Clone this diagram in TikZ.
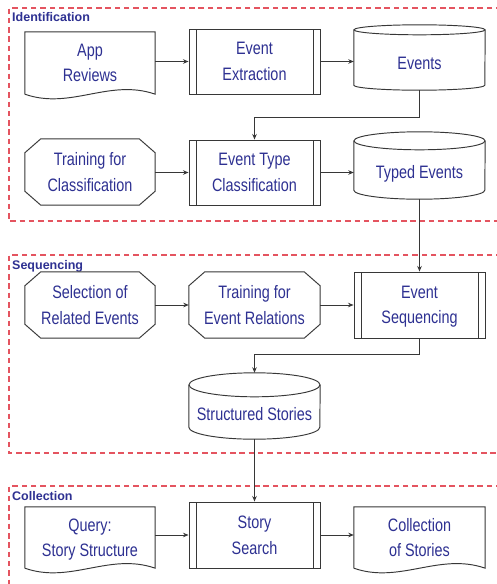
\documentclass[tikz,border=0pt]{standalone}
\usepackage{fontspec}
\setmainfont{Liberation Sans}
\newfontfamily\boxfont[FakeStretch=0.8]{Liberation Sans}
\usetikzlibrary{arrows.meta,calc}

\definecolor{inkblue}{RGB}{46,49,146}
\definecolor{edgegray}{RGB}{55,55,55}
\definecolor{zonered}{RGB}{228,84,96}

\begin{document}
\begin{tikzpicture}[x=1pt,y=-1pt,
  every node/.style={inner sep=0pt},
  boxtext/.style={font=\boxfont\fontsize{18}{25.5}\selectfont, text=inkblue,
    align=center, text depth=0pt},
  outline/.style={draw=edgegray, line width=0.95pt},
  proc/.style={boxtext, outline, minimum width=131pt, minimum height=65pt,
    path picture={
      \draw[edgegray, line width=0.95pt]
        ([xshift=7pt]path picture bounding box.north west) --
        ([xshift=7pt]path picture bounding box.south west)
        ([xshift=-7pt]path picture bounding box.north east) --
        ([xshift=-7pt]path picture bounding box.south east);}},
  docnode/.style={boxtext, minimum width=130pt, minimum height=61pt},
  octnode/.style={boxtext, minimum width=130pt, minimum height=66pt},
  cylnode/.style={boxtext, minimum width=131pt},
  conn/.style={draw=edgegray, line width=0.95pt, -{Stealth[length=5.5pt,width=4.5pt]}},
  stagezone/.style={draw=zonered, line width=1.1pt, dash pattern=on 5.5pt off 3.8pt},
  zonetitle/.style={font=\fontsize{12.5}{15}\selectfont\bfseries, text=inkblue,
    anchor=base west}
]
\path[use as bounding box] (0,0) rectangle (497,584);
\fill[white] (0,0) rectangle (497,584);
\clip (0,0) rectangle (497,584);

% stage frames
\draw[stagezone] (520,8) -- (9,8) -- (9,221) -- (520,221);
\draw[stagezone] (520,255) -- (9,255) -- (9,453) -- (520,453);
\draw[stagezone] (520,486) -- (9,486) -- (9,600);
\node[zonetitle] (tid) at (12,21.5) {Identification};
\node[zonetitle] (tsq) at (12,269) {Sequencing};
\node[zonetitle] (tcl) at (12,500.5) {Collection};

% identification
\node[docnode, minimum height=62pt] (rev) at (90,63) {App\\Reviews};
\node[proc] (ext) at (254.5,61.5) {Event\\Extraction};
\node[cylnode, minimum height=65pt, text height=24pt] (ev) at (419.5,57.5) {Events};
\node[octnode] (trc) at (90,172) {Training for\\Classification};
\node[proc] (etc) at (254.5,172.5) {Event Type\\Classification};
\node[cylnode, minimum height=67pt, text height=26pt] (tev) at (419.5,165.5) {Typed Events};

% sequencing
\node[octnode] (sel) at (90,305) {Selection of\\Related Events};
\node[octnode, minimum width=131pt] (tre) at (254.5,305) {Training for\\Event Relations};
\node[proc, minimum height=66pt] (seq) at (419.5,305) {Event\\Sequencing};
\node[cylnode, minimum height=66pt, text height=29pt] (ss) at (254.5,406) {Structured Stories};

% collection
\node[docnode] (qry) at (90,537.5) {Query:\\Story Structure};
\node[proc, minimum height=66pt] (srch) at (254.5,535) {Story\\Search};
\node[docnode, minimum width=131pt] (coll) at (419.5,537.5) {Collection\\of Stories};

% document outlines with wavy lower edge
\foreach \n in {rev,qry,coll}
  \draw[outline] (\n.south west) -- (\n.north west) -- (\n.north east) -- (\n.south east)
    .. controls ($(\n.south east)+(-46,-16)$) and ($(\n.south west)+(46,16)$) .. (\n.south west);

% octagon outlines
\foreach \n in {trc,sel,tre}
  \draw[outline] ($(\n.north west)+(16,0)$) -- ($(\n.north east)+(-16,0)$)
    -- ($(\n.north east)+(0,14)$) -- ($(\n.south east)+(0,-14)$)
    -- ($(\n.south east)+(-16,0)$) -- ($(\n.south west)+(16,0)$)
    -- ($(\n.south west)+(0,-14)$) -- ($(\n.north west)+(0,14)$) -- cycle;

% storage cylinders
\foreach \n/\r in {ev/5,tev/9,ss/12} {
  \draw[outline] ($(\n.north)+(0,\r)$) ellipse [x radius=65.5, y radius=\r];
  \draw[outline] ($(\n.north west)+(0,\r)$) -- ($(\n.south west)+(0,-\r)$)
    arc[start angle=180, end angle=0, x radius=65.5, y radius=\r]
    -- ($(\n.north east)+(0,\r)$);
}

% connectors
\draw[conn] (ext.west -| rev.east) -- (ext.west);
\draw[conn] (ext.east) -- (ext.east -| ev.west);
\draw[conn] (ev.south) -- ++(0,27) -| (etc.north);
\draw[conn] (etc.west -| trc.east) -- (etc.west);
\draw[conn] (etc.east) -- (etc.east -| tev.west);
\draw[conn] (tev.south) -- (seq.north);
\draw[conn] (sel.east) -- (tre.west);
\draw[conn] (tre.east) -- (seq.west);
\draw[conn] (seq.south) -- ++(0,16) -| (ss.north);
\draw[conn] (ss.south) -- (srch.north);
\draw[conn] (srch.west -| qry.east) -- (srch.west);
\draw[conn] (srch.east) -- (srch.east -| coll.west);
\end{tikzpicture}
\end{document}
